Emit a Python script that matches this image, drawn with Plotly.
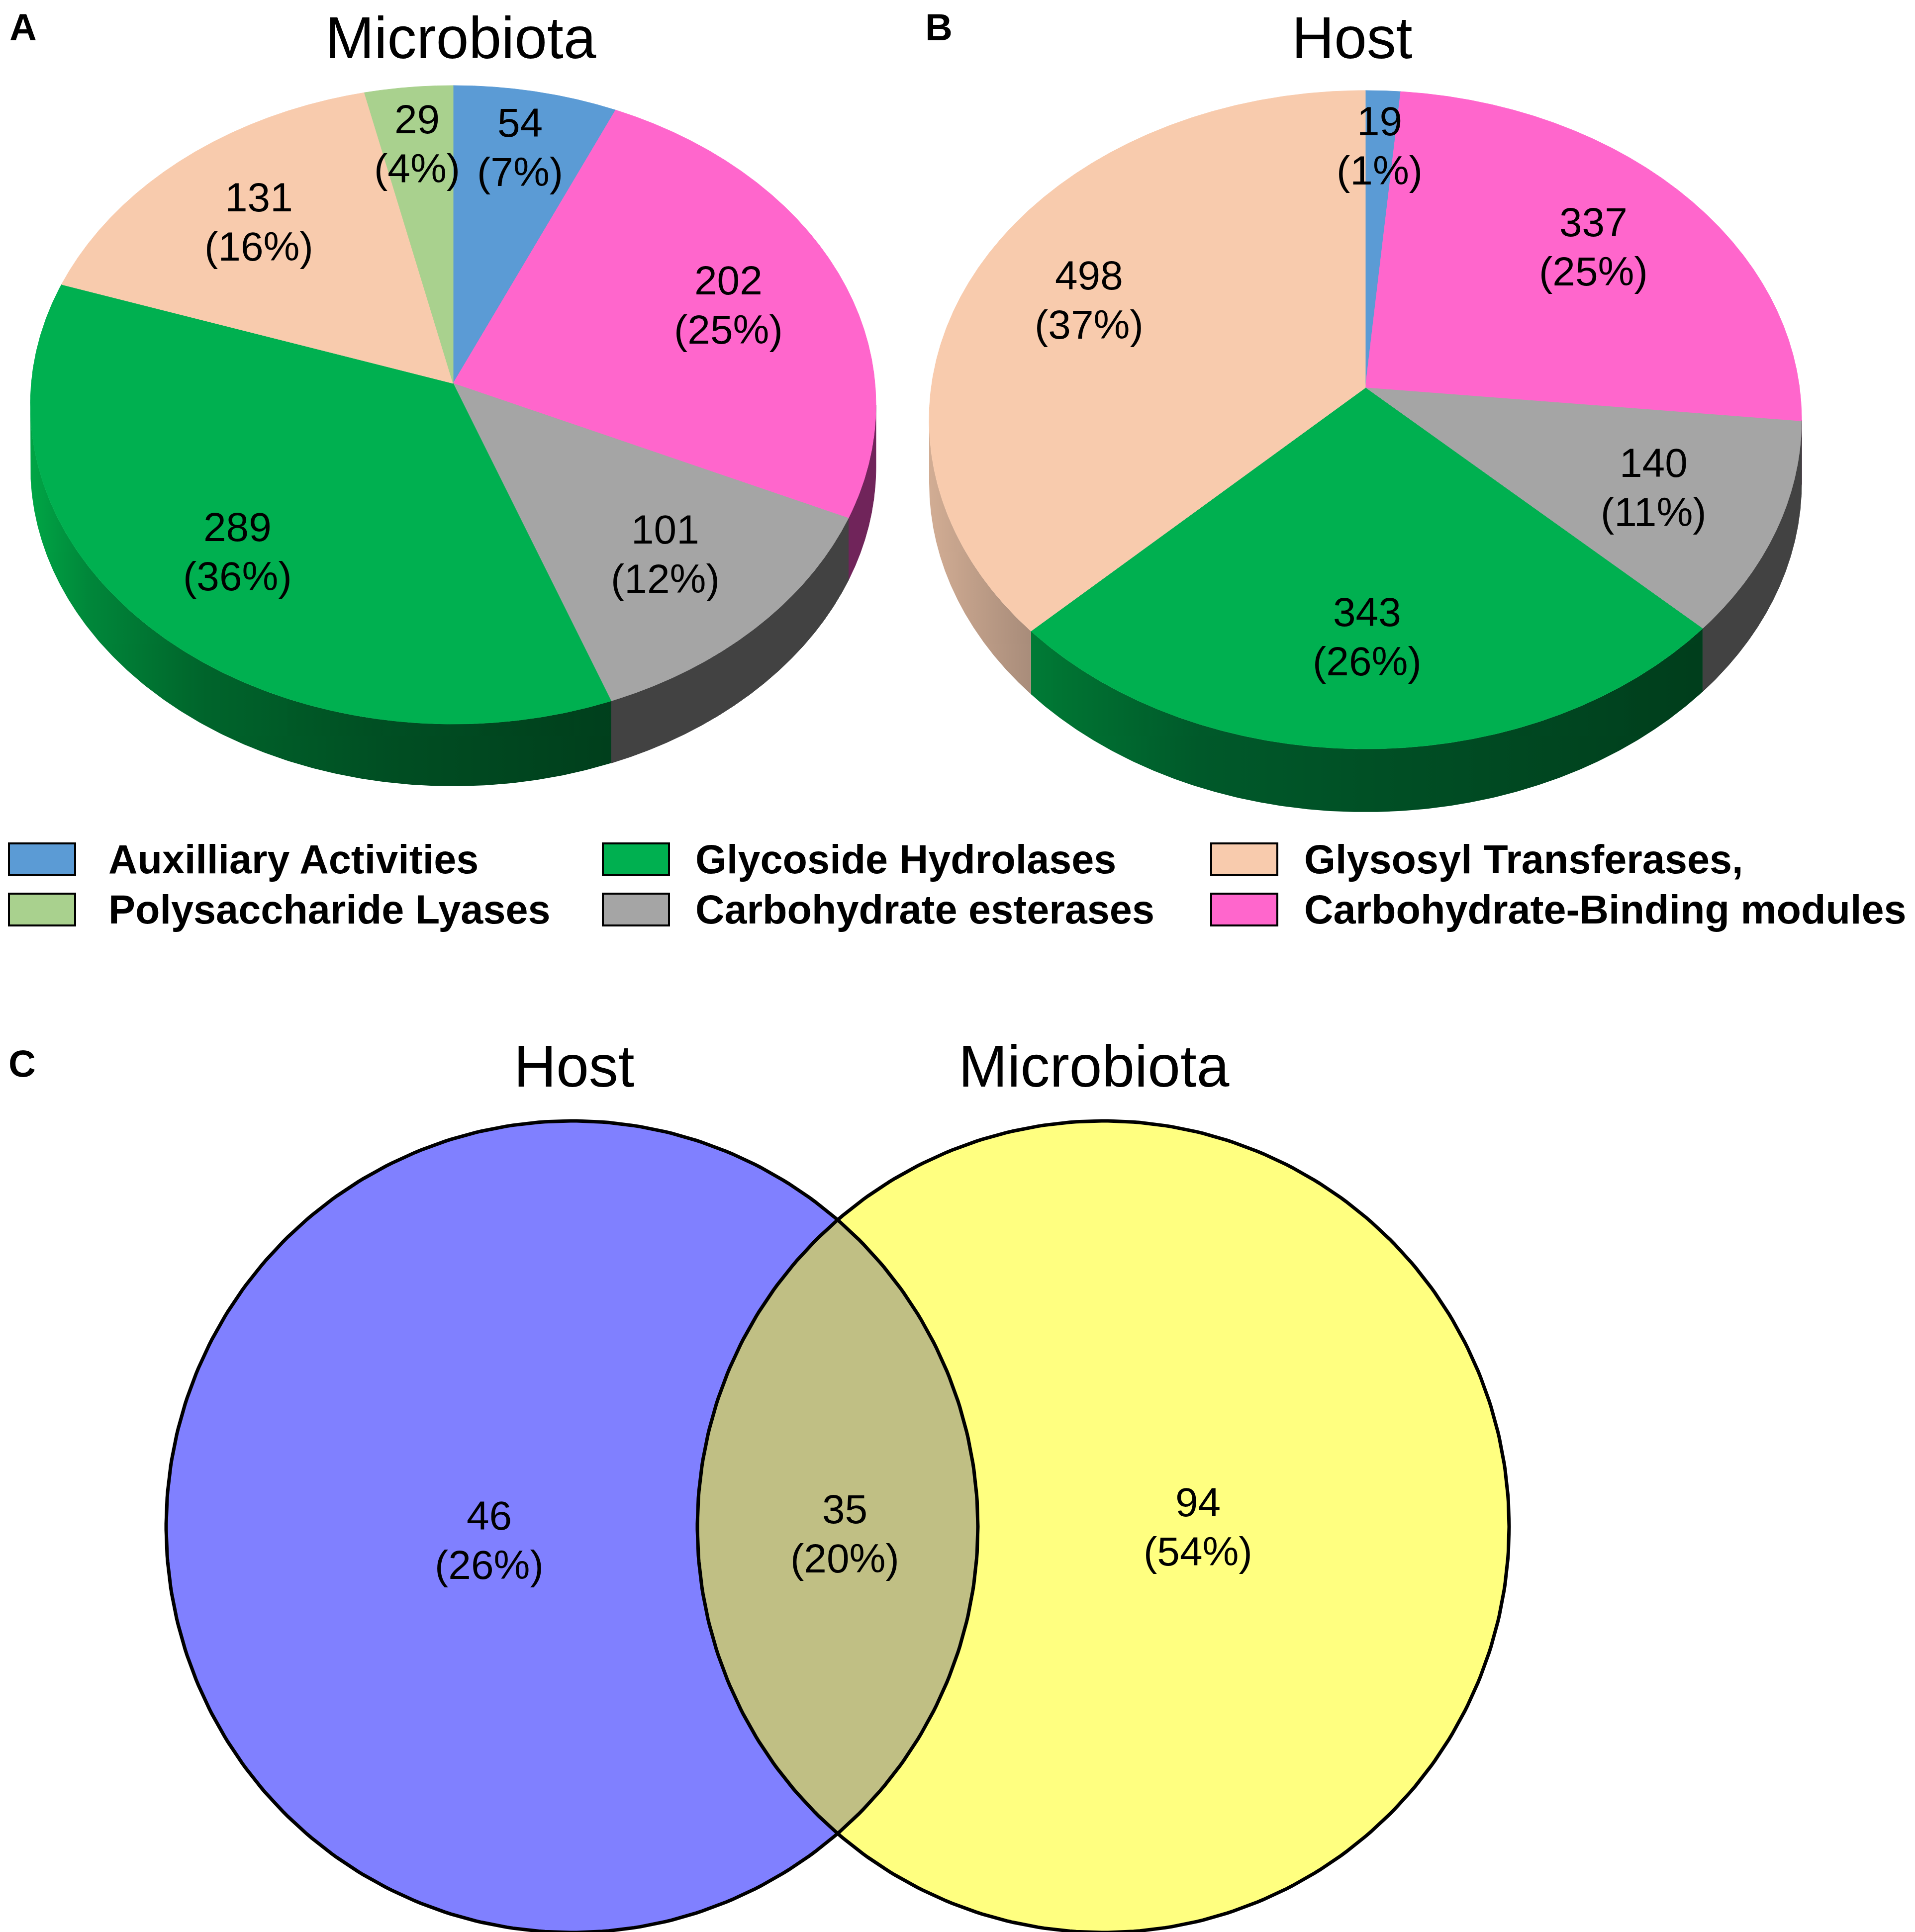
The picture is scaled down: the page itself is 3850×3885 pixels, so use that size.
import numpy as np
import plotly.graph_objects as go

# ---- data ----
categories = ["Auxilliary Activities", "Polysaccharide Lyases", "Glycoside Hydrolases",
              "Carbohydrate esterases", "Glysosyl Transferases,", "Carbohydrate-Binding modules"]
cat_colors = ["#5b9bd5", "#a9d18e", "#00b050", "#a5a5a5", "#f8cbad", "#ff66cc"]

# slice order, clockwise from 12 o'clock
pie_order = ["Auxilliary Activities", "Carbohydrate-Binding modules", "Carbohydrate esterases",
             "Glycoside Hydrolases", "Glysosyl Transferases,", "Polysaccharide Lyases"]
microbiota_counts = [54, 202, 101, 289, 131, 29]
microbiota_pct = ["7%", "25%", "12%", "36%", "16%", "4%"]
host_counts = [19, 337, 140, 343, 498, 0]
host_pct = ["1%", "25%", "11%", "26%", "37%", ""]

venn_sets = ["Host", "Microbiota"]
venn_counts = [46, 35, 94]          # host only, shared, microbiota only
venn_pct = ["26%", "20%", "54%"]

FONT = "Liberation Sans, Arial, sans-serif"
color_of = dict(zip(categories, cat_colors))

# side (depth) shading of the 3D pies
side_a = {
    "Carbohydrate-Binding modules": "#70245a",
    "Carbohydrate esterases": "#424242",
    "Glycoside Hydrolases": [[0, "#00a545"], [0.1, "#00873a"], [0.3, "#00642b"],
                             [0.6, "#004f23"], [1, "#003f1c"]],
}
side_b = {
    "Carbohydrate-Binding modules": "#70245a",
    "Carbohydrate esterases": "#424242",
    "Glycoside Hydrolases": [[0, "#007a35"], [0.25, "#00592a"], [1, "#003e1c"]],
    "Glysosyl Transferases,": [[0, "#d2ad94"], [1, "#a88c7a"]],
}

pie_a = dict(cx=903, cy=806, rx=850, ry=642, k=0.067, depth=125)
pie_b = dict(cx=2737, cy=836, rx=877, ry=662, k=0.097, depth=127)


def project(g, w, u):
    # perspective view of a tilted disc (w: right, u: back)
    k = g["k"]
    den = 1 + k * u
    xs = w * np.sqrt(1 - k * k) / den
    vs = (u + k) / den
    return g["cx"] + g["rx"] * xs, g["cy"] - g["ry"] * vs


fig = go.Figure()
annots = []


def add_label(x, y, top, bottom, size=82, gap=99):
    annots.append(dict(x=x, y=y - gap / 2, text=top, showarrow=False, xref="x", yref="y",
                       font=dict(family=FONT, size=size, color="black")))
    annots.append(dict(x=x, y=y + gap / 2, text=bottom, showarrow=False, xref="x", yref="y",
                       font=dict(family=FONT, size=size, color="black")))


def draw_pie(g, counts, pcts, sides):
    total = float(sum(counts))
    edges = np.concatenate([[0], np.cumsum(counts)]) / total * 2 * np.pi
    lo = np.arccos(-g["k"])
    hi = 2 * np.pi - lo
    # side walls
    for i, name in enumerate(pie_order):
        a0, a1 = max(edges[i], lo), min(edges[i + 1], hi)
        if counts[i] == 0 or a1 <= a0 or name not in sides:
            continue
        t = np.linspace(a0, a1, 200)
        x, y = project(g, np.sin(t), np.cos(t))
        xs = np.concatenate([x, x[::-1], x[:1]])
        ys = np.concatenate([y, y[::-1] + g["depth"], y[:1]])
        st = sides[name]
        if isinstance(st, str):
            fig.add_trace(go.Scatter(x=xs, y=ys, mode="lines", fill="toself", fillcolor=st,
                                     line=dict(color=st, width=1), hoverinfo="skip"))
        else:
            fig.add_trace(go.Scatter(x=xs, y=ys, mode="lines", fill="toself",
                                     fillgradient=dict(type="horizontal", colorscale=st),
                                     line=dict(color=st[-1][1], width=0), hoverinfo="skip"))
    # top surface
    hx, hy = project(g, 0.0, 0.0)
    for i, name in enumerate(pie_order):
        if counts[i] == 0:
            continue
        t = np.linspace(edges[i], edges[i + 1], 300)
        x, y = project(g, np.sin(t), np.cos(t))
        xs = np.concatenate([[hx], x, [hx]])
        ys = np.concatenate([[hy], y, [hy]])
        c = color_of[name]
        fig.add_trace(go.Scatter(x=xs, y=ys, mode="lines", fill="toself", fillcolor=c,
                                 line=dict(color=c, width=1), hoverinfo="skip"))
    # labels
    for i, name in enumerate(pie_order):
        if counts[i] == 0:
            continue
        share = counts[i] / total
        mid = (edges[i] + edges[i + 1]) / 2
        r = 0.8 if share < 0.08 else 0.71
        lx, ly = project(g, r * np.sin(mid), r * np.cos(mid))
        add_label(float(lx), float(ly), str(counts[i]), "(" + pcts[i] + ")")


draw_pie(pie_a, microbiota_counts, microbiota_pct, side_a)
draw_pie(pie_b, host_counts, host_pct, side_b)

# ---- Venn diagram ----
vy, vr = 3062, 816
vcx = [1142, 2210]
venn_fill = ["#8080ff", "#ffff80"]
phi = np.linspace(0, 2 * np.pi, 400)
for cx, c in zip(vcx, venn_fill):
    fig.add_trace(go.Scatter(x=cx + vr * np.cos(phi), y=vy + vr * np.sin(phi), mode="lines",
                             fill="toself", fillcolor=c, line=dict(width=0), hoverinfo="skip"))
half = (vcx[1] - vcx[0]) / 2
p0 = np.arccos(half / vr)
t1 = np.linspace(-p0, p0, 200)
t2 = np.linspace(np.pi - p0, np.pi + p0, 200)
lens_x = np.concatenate([vcx[0] + vr * np.cos(t1), vcx[1] + vr * np.cos(t2)])
lens_y = np.concatenate([vy + vr * np.sin(t1), vy + vr * np.sin(t2)])
fig.add_trace(go.Scatter(x=lens_x, y=lens_y, mode="lines", fill="toself", fillcolor="#c0bf84",
                         line=dict(width=0), hoverinfo="skip"))
for cx in vcx:
    fig.add_trace(go.Scatter(x=cx + vr * np.cos(phi), y=vy + vr * np.sin(phi), mode="lines",
                             line=dict(color="black", width=7), hoverinfo="skip"))

venn_label_pos = [(975, 3089), (1690, 3076), (2400, 3062)]
for (lx, ly), n, p in zip(venn_label_pos, venn_counts, venn_pct):
    add_label(lx, ly, str(n), "(" + p + ")")

# ---- titles and panel letters ----
for txt, x in [("Microbiota", 918), ("Host", 2710)]:
    annots.append(dict(x=x, y=0, yanchor="top", text=txt, showarrow=False, xref="x", yref="y",
                       font=dict(family=FONT, size=118, color="black")))
for txt, x in [("Host", 1146), ("Microbiota", 2191)]:
    annots.append(dict(x=x, y=2136, text=txt, showarrow=False, xref="x", yref="y",
                       font=dict(family=FONT, size=118, color="black")))
for txt, x, y in [("A", 38, 46), ("B", 1879, 46), ("C", 36, 2130)]:
    annots.append(dict(x=x, y=y, text=txt, showarrow=False, xref="x", yref="y",
                       font=dict(family=FONT, size=76, color="black", weight="bold")))

# ---- legend ----
legend_layout = [(["Auxilliary Activities", "Polysaccharide Lyases"], 10, 208),
                 (["Glycoside Hydrolases", "Carbohydrate esterases"], 1204, 1388),
                 (["Glysosyl Transferases,", "Carbohydrate-Binding modules"], 2427, 2612)]
rows = [1720, 1821]
shapes = []
for names, bx, tx in legend_layout:
    for name, ry in zip(names, rows):
        shapes.append(dict(type="rect", xref="x", yref="y", x0=bx, x1=bx + 133,
                           y0=ry - 32, y1=ry + 32, fillcolor=color_of[name],
                           line=dict(color="black", width=4)))
        annots.append(dict(x=tx, y=ry, text=name, showarrow=False, xref="x", yref="y",
                           xanchor="left",
                           font=dict(family=FONT, size=81, color="black", weight="bold")))

fig.update_layout(
    width=3850, height=3885,
    margin=dict(l=0, r=0, t=0, b=0),
    paper_bgcolor="white", plot_bgcolor="white",
    showlegend=False, hovermode=False,
    xaxis=dict(range=[0, 3850], visible=False, fixedrange=True),
    yaxis=dict(range=[3885, 0], visible=False, fixedrange=True),
    annotations=annots, shapes=shapes,
)

fig.write_html("out.html")
